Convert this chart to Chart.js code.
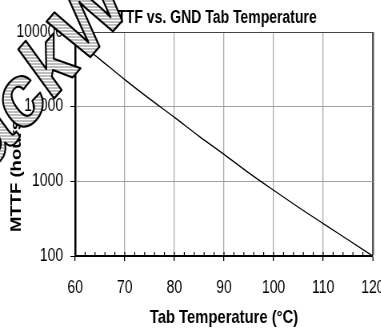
<!DOCTYPE html>
<html>
<head>
<meta charset="utf-8">
<script src="https://cdn.jsdelivr.net/npm/chart.js@4"></script>
<style>
  html, body { margin: 0; padding: 0; background: #fff; overflow: hidden; }
  /* the sheet is drawn wide and squeezed to 381px, which gives the narrow lettering */
  #sheet { width: 476px; height: 329px; transform: scaleX(0.8); transform-origin: 0 0; }
  canvas { display: block; }
</style>
</head>
<body>
<div id="sheet"><canvas id="mttfChart" width="476" height="329"></canvas></div>
<script>
// MTTF curve vs. GND tab temperature
const TEMPS = [60, 65, 70, 75, 80, 85, 90, 95, 100, 105, 110, 115, 120];
const MTTF_HOURS = [80000, 43000, 23000, 12700, 7200, 4000, 2300, 1300, 760, 450, 272, 165, 100];
const X_TICKS = [60, 70, 80, 90, 100, 110, 120];
const Y_TICKS = [100, 1000, 10000, 100000];
const MINOR_STEP = 2;

const FONT = "'Liberation Sans', Arial, sans-serif";

/* ===== title drawn by hand so it can sit off-centre ===== */
const chartTitle = {
  id: "chartTitle",
  afterDraw(chart, args, opts) {
    const ctx = chart.ctx;
    ctx.save();
    ctx.font = `bold ${opts.size}px ${FONT}`;
    ctx.fillStyle = "#000";
    ctx.textAlign = "center";
    ctx.textBaseline = "alphabetic";
    ctx.fillText(opts.text, opts.x, opts.y);
    ctx.restore();
  },
};

/* ===== rotated y caption, starting a little above the x axis ===== */
const yCaption = {
  id: "yCaption",
  afterDraw(chart, args, opts) {
    const ctx = chart.ctx;
    ctx.save();
    ctx.translate(opts.x, opts.y);
    ctx.rotate(-Math.PI / 2);
    ctx.font = `bold ${opts.size}px ${FONT}`;
    ctx.fillStyle = "#000";
    ctx.textAlign = "left";
    ctx.textBaseline = "middle";
    ctx.fillText(opts.text, 0, 0);
    ctx.restore();
  },
};

/* ===== small ticks pointing up from the x axis ===== */
const minorTicks = {
  id: "minorTicks",
  afterDatasetsDraw(chart, args, opts) {
    const { ctx, scales } = chart;
    const x = scales.x;
    const base = chart.chartArea.bottom;
    ctx.save();
    ctx.strokeStyle = "#000";
    ctx.lineWidth = 1.2;
    ctx.beginPath();
    for (let v = x.min + MINOR_STEP; v < x.max; v += MINOR_STEP) {
      const px = x.getPixelForValue(v);
      ctx.moveTo(px, base);
      ctx.lineTo(px, base - opts.length);
    }
    ctx.stroke();
    ctx.restore();
  },
};

/* ===== hatched stamp lettering over the top-left corner ===== */
const stamp = {
  id: "stamp",
  afterDraw(chart, args, opts) {
    const ctx = chart.ctx;
    const tile = document.createElement("canvas");
    tile.width = 4;
    tile.height = 3;
    const t = tile.getContext("2d");
    t.fillStyle = "#fff";
    t.fillRect(0, 0, 4, 3);
    t.fillStyle = "#bdbdbd";
    t.fillRect(0, 0, 4, 2);
    const hatch = ctx.createPattern(tile, "repeat");
    // keep the stripes horizontal after rotating the text
    hatch.setTransform(new DOMMatrix().rotate((-opts.angle * 180) / Math.PI));

    ctx.save();
    ctx.translate(opts.x, opts.y);
    ctx.rotate(opts.angle);
    ctx.font = `bold ${opts.size}px ${FONT}`;
    ctx.textAlign = "center";
    ctx.textBaseline = "middle";
    ctx.fillStyle = hatch;
    ctx.fillText(opts.text, 0, 0);
    ctx.lineWidth = 2.2;
    ctx.lineJoin = "round";
    ctx.strokeStyle = "#000";
    ctx.strokeText(opts.text, 0, 0);
    ctx.restore();
  },
};

const points = TEMPS.map((t, i) => ({ x: t, y: MTTF_HOURS[i] }));

new Chart(document.getElementById("mttfChart"), {
  type: "line",
  data: {
    datasets: [
      {
        data: points,
        borderColor: "#000",
        borderWidth: 1.3,
        pointRadius: 0,
        cubicInterpolationMode: "monotone",
        fill: false,
      },
    ],
  },
  options: {
    responsive: false,
    animation: false,
    devicePixelRatio: 1,
    layout: { padding: { top: 32, right: 10, left: 0, bottom: 0 } },
    plugins: {
      legend: { display: false },
      tooltip: { enabled: false },
      chartTitle: { text: "MTTF vs. GND Tab Temperature", x: 264, y: 23, size: 17.5 },
      yCaption: { text: "MTTF (hours)", x: 21, y: 232, size: 18.5 },
      minorTicks: { length: 4 },
      stamp: { text: "ackW", x: 59, y: 72, angle: -0.74, size: 92 },
    },
    scales: {
      x: {
        type: "linear",
        min: 60,
        max: 120,
        afterBuildTicks: (scale) => {
          scale.ticks = X_TICKS.map((v) => ({ value: v }));
        },
        ticks: {
          font: { family: FONT, size: 17.5 },
          color: "#000",
          padding: 17,
          maxRotation: 0,
          autoSkip: false,
        },
        grid: {
          color: (c) => (c.tick && c.tick.value === 120 ? "#555" : "#ababab"),
          lineWidth: (c) => (c.tick && c.tick.value === 120 ? 2.5 : 1.3),
          tickColor: "#000",
          tickWidth: 1.3,
          tickLength: 5,
        },
        border: { color: "#000", width: 2 },
        title: {
          display: true,
          text: "Tab Temperature (°C)",
          color: "#000",
          font: { family: FONT, size: 18.5, weight: "bold", lineHeight: 1 },
          padding: { top: 0, bottom: 1.5 },
        },
        afterFit: (scale) => {
          scale.height = 73;
          scale.paddingLeft = 0;
          scale.paddingRight = 0;
        },
      },
      y: {
        type: "logarithmic",
        min: 100,
        max: 100000,
        afterBuildTicks: (scale) => {
          scale.ticks = Y_TICKS.map((v) => ({ value: v }));
        },
        ticks: {
          callback: (v) => String(v),
          font: { family: FONT, size: 17.5 },
          color: "#000",
          padding: 9,
        },
        grid: {
          color: (c) => (c.tick && c.tick.value === 100000 ? "#444" : "#a0a0a0"),
          lineWidth: 1,
          tickColor: "#000",
          tickLength: 6,
        },
        border: { color: "#000", width: 2.5 },
        // caption space is kept free here; the text itself comes from yCaption
        title: { display: false },
        afterFit: (scale) => {
          scale.width = 94;
          scale.paddingTop = 0;
          scale.paddingBottom = 0;
        },
      },
    },
  },
  plugins: [minorTicks, chartTitle, yCaption, stamp],
});
</script>
</body>
</html>
